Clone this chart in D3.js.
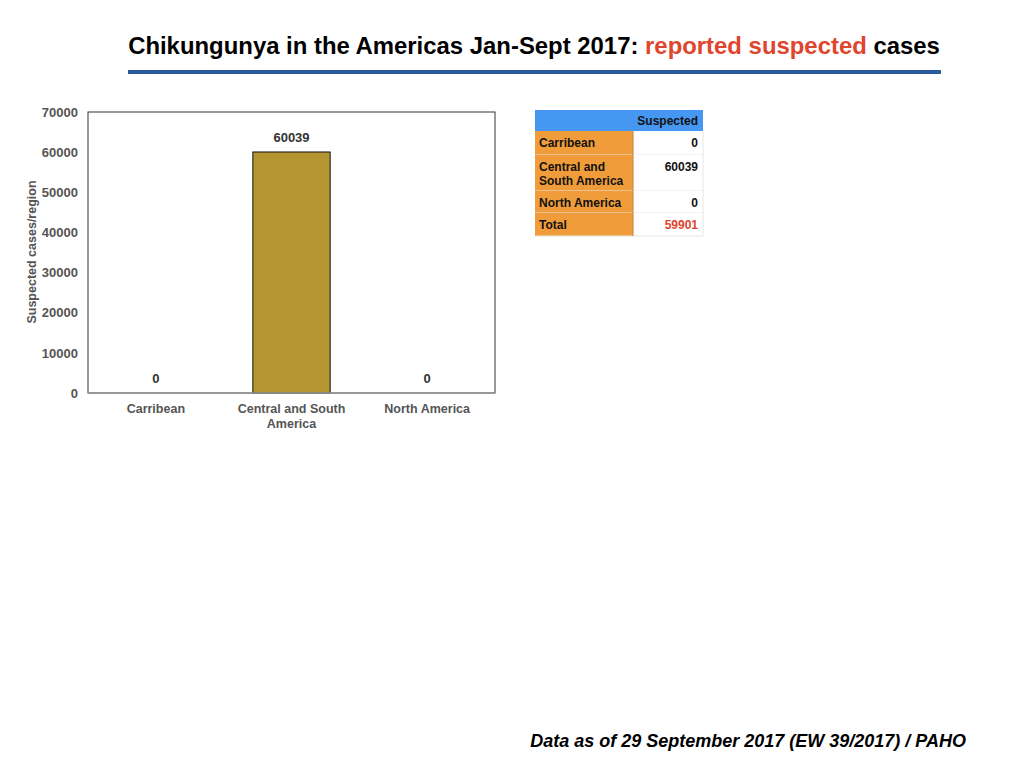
<!DOCTYPE html>
<html><head><meta charset="utf-8">
<script src="https://cdn.jsdelivr.net/npm/d3@7"></script>
<style>body{margin:0;background:#fff;} svg{display:block;}</style>
</head><body>
<svg id="c" width="1024" height="768"></svg>
<script>
const categories = ["Carribean", "Central and South America", "North America"];
const values = [0, 60039, 0];
const yTicks = [0, 10000, 20000, 30000, 40000, 50000, 60000, 70000];
const tableRows = ["Carribean", "Central and South America", "North America", "Total"];
const tableValues = ["0", "60039", "0", "59901"];

const svg = d3.select("#c");
const F = "'Liberation Sans', Arial, sans-serif";

// Title
const title = svg.append("text").attr("x", 534).attr("y", 54).attr("text-anchor", "middle")
  .attr("font-family", F).attr("font-weight", "bold").attr("font-size", 23.9);
title.append("tspan").attr("fill", "#000").text("Chikungunya in the Americas Jan-Sept 2017: ");
title.append("tspan").attr("fill", "#e0452e").text("reported suspected");
title.append("tspan").attr("fill", "#000").text(" cases");
svg.append("rect").attr("x", 128).attr("y", 70).attr("width", 813).attr("height", 4).attr("fill", "#2b5b9c");

// Chart
const m = {l: 88, r: 495, t: 112, b: 393};
const x = d3.scaleBand().domain(categories).range([m.l, m.r]).paddingInner(0.43).paddingOuter(0.215);
const y = d3.scaleLinear().domain([0, 70000]).range([m.b, m.t]);

const g = svg.append("g");
g.append("rect").attr("x", m.l).attr("y", m.t).attr("width", m.r - m.l).attr("height", m.b - m.t)
  .attr("fill", "none").attr("stroke", "#333").attr("stroke-width", 1);

g.selectAll("rect.bar").data(values).join("rect").attr("class", "bar")
  .attr("x", (d, i) => x(categories[i])).attr("width", x.bandwidth())
  .attr("y", d => y(d)).attr("height", d => y(0) - y(d))
  .attr("fill", "#b59532").attr("stroke", "#111").attr("stroke-width", 1);

g.selectAll("text.val").data(values).join("text").attr("class", "val")
  .attr("x", (d, i) => x(categories[i]) + x.bandwidth() / 2)
  .attr("y", d => y(d) - 10).attr("text-anchor", "middle")
  .attr("font-family", F).attr("font-weight", "bold").attr("font-size", 13).attr("fill", "#333")
  .text(d => d);

// bottom axis line (grey)
g.append("line").attr("x1", m.l).attr("x2", m.r).attr("y1", m.b).attr("y2", m.b).attr("stroke", "#999").attr("stroke-width", 1.5);

const yAxis = g.append("g").attr("transform", `translate(${m.l},0)`)
  .call(d3.axisLeft(y).tickValues(yTicks).tickSize(0).tickPadding(10).tickFormat(d3.format("d")));
yAxis.select(".domain").remove();
yAxis.selectAll("text").attr("font-family", F).attr("font-weight", "bold").attr("font-size", 13).attr("fill", "#555");

const xAxis = g.append("g").attr("transform", `translate(0,${m.b})`)
  .call(d3.axisBottom(x).tickSize(0).tickPadding(0));
xAxis.select(".domain").remove();
xAxis.selectAll("text").remove();
const xLabels = {"Carribean": ["Carribean"], "Central and South America": ["Central and South", "America"], "North America": ["North America"]};
xAxis.selectAll("g.tick").append("text").attr("text-anchor", "middle")
  .attr("font-family", F).attr("font-weight", "bold").attr("font-size", 12.5).attr("fill", "#555")
  .selectAll("tspan").data(d => xLabels[d]).join("tspan").attr("x", 0).attr("y", (d, i) => 20 + i * 15).text(d => d);

svg.append("text").attr("transform", "translate(36,252) rotate(-90)").attr("text-anchor", "middle")
  .attr("font-family", F).attr("font-weight", "bold").attr("font-size", 12.5).attr("fill", "#555")
  .text("Suspected cases/region");

// Table
const tx = 535, tc = 633, tr = 703;
const rowTops = [131, 155, 191, 213, 236];
const tg = svg.append("g");
tg.append("rect").attr("x", tx).attr("y", 110).attr("width", tr - tx).attr("height", 21).attr("fill", "#4597f2");
tg.append("text").attr("x", tr - 5).attr("y", 125).attr("text-anchor", "end")
  .attr("font-family", F).attr("font-weight", "bold").attr("font-size", 12).attr("fill", "#111").text("Suspected");
const rowLines = {"Carribean": ["Carribean"], "Central and South America": ["Central and", "South America"], "North America": ["North America"], "Total": ["Total"]};
tableRows.forEach((r, i) => {
  const top = rowTops[i], h = rowTops[i + 1] - top;
  tg.append("rect").attr("x", tx).attr("y", top).attr("width", tc - tx).attr("height", h).attr("fill", "#f19c3a");
  tg.append("rect").attr("x", tc).attr("y", top).attr("width", tr - tc).attr("height", h).attr("fill", "#fff");
  tg.append("line").attr("x1", tx).attr("x2", tr).attr("y1", top + h).attr("y2", top + h).attr("stroke", "#e6e6e6");
  const t = tg.append("text").attr("font-family", F).attr("font-weight", "bold").attr("font-size", 12).attr("fill", "#111");
  rowLines[r].forEach((ln, j) => t.append("tspan").attr("x", tx + 4).attr("y", top + 16 + j * 14).text(ln));
  tg.append("text").attr("x", tr - 5).attr("y", top + 16).attr("text-anchor", "end")
    .attr("font-family", F).attr("font-weight", "bold").attr("font-size", 12)
    .attr("fill", r === "Total" ? "#e0452e" : "#111").text(tableValues[i]);
});
tg.append("line").attr("x1", tc).attr("x2", tc).attr("y1", 131).attr("y2", 236).attr("stroke", "#c08040");
tg.append("line").attr("x1", tr).attr("x2", tr).attr("y1", 131).attr("y2", 236).attr("stroke", "#e6e6e6");

// Footer
svg.append("text").attr("x", 966).attr("y", 747).attr("text-anchor", "end")
  .attr("font-family", F).attr("font-weight", "bold").attr("font-style", "italic").attr("font-size", 18).attr("fill", "#000")
  .text("Data as of 29 September 2017 (EW 39/2017) / PAHO");
</script>
</body></html>
